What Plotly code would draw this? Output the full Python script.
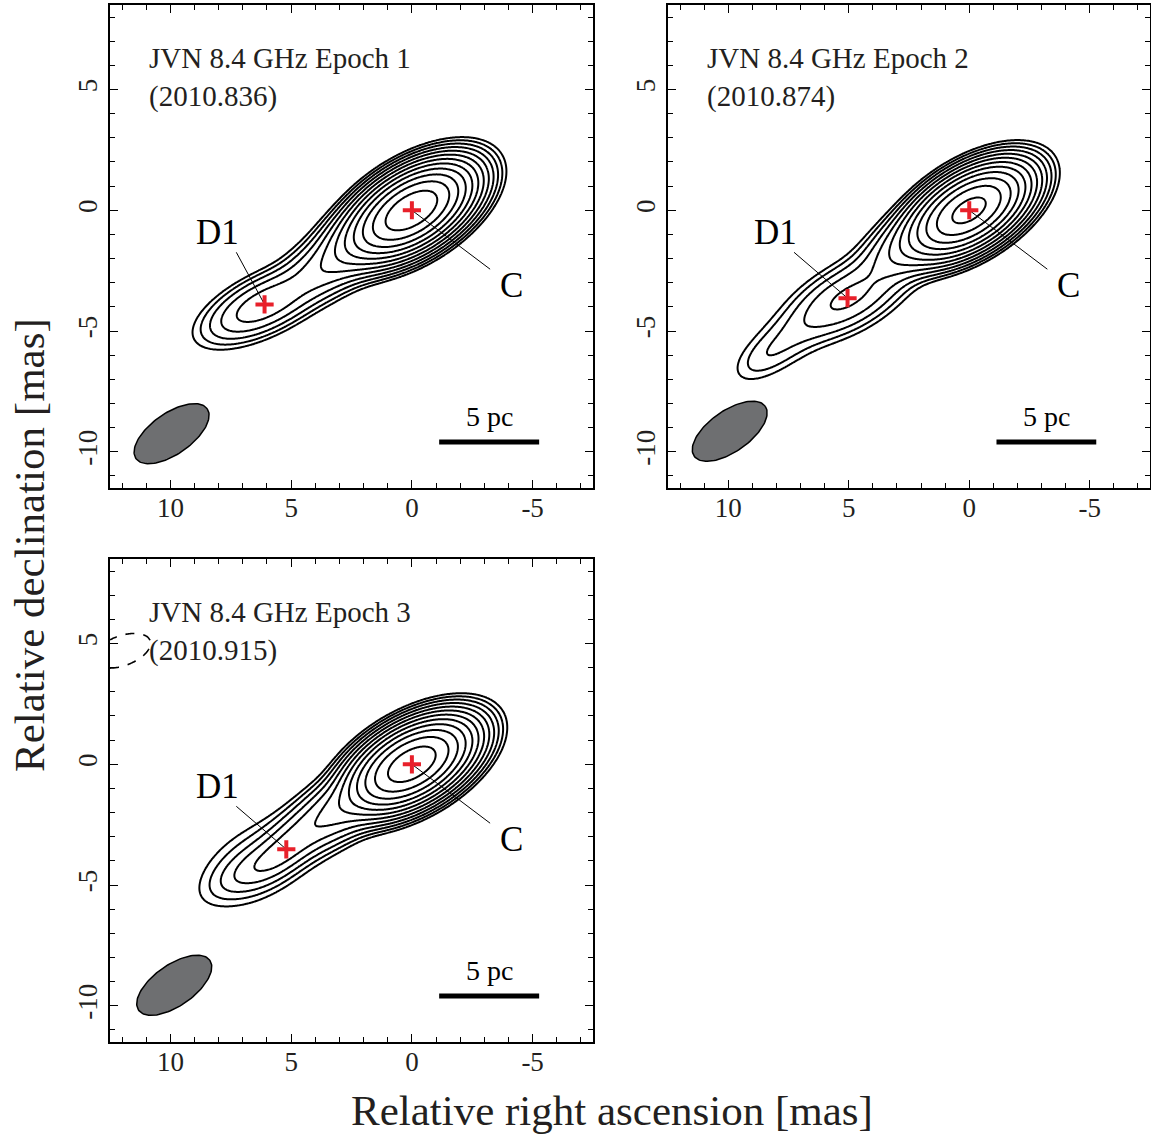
import numpy as np
import plotly.graph_objects as go

# ---------------- data (model components) ----------------
EPOCH_NAMES = ["JVN 8.4 GHz Epoch 1", "JVN 8.4 GHz Epoch 2", "JVN 8.4 GHz Epoch 3"]
EPOCH_DATES = ["(2010.836)", "(2010.874)", "(2010.915)"]

# Gaussian components per epoch: x [mas], y [mas], peak (in units of lowest contour),
# FWHM major, FWHM minor [mas], PA [deg]
EP1_X = [0.0, 1.7, 3.6, 6.1]
EP1_Y = [0.0, -1.0, -2.4, -3.9]
EP1_PEAK = [3700.0, 120.0, 20.0, 26.0]
EP1_MAJ = [2.55, 2.6, 2.6, 3.0]
EP1_MIN = [1.33, 1.3, 1.3, 1.25]
EP1_PA = [-58.0, -58.0, -60.0, -64.0]

EP2_X = [0.0, 1.8, 3.1, 5.05, 7.5, 8.5]
EP2_Y = [0.0, -1.0, -2.0, -3.64, -5.3, -6.1]
EP2_PEAK = [2660.0, 60.0, 10.0, 18.0, 3.5, 1.5]
EP2_MAJ = [2.5, 2.6, 2.5, 3.1, 3.0, 2.0]
EP2_MIN = [1.3, 1.3, 1.3, 1.45, 1.3, 1.0]
EP2_PA = [-58.0, -58.0, -60.0, -62.0, -55.0, -55.0]

EP3_X = [0.0, 2.6, 4.0, 5.2, 6.4, 6.3, 12.0]
EP3_Y = [0.0, -1.6, -2.6, -3.5, -4.2, -4.0, 4.7]
EP3_PEAK = [3400.0, 40.0, 14.0, 14.0, 8.0, 4.0, -1.6]
EP3_MAJ = [2.55, 2.6, 2.6, 2.4, 2.4, 3.6, 3.0]
EP3_MIN = [1.33, 1.3, 1.3, 1.0, 1.0, 1.9, 1.5]
EP3_PA = [-60.0, -60.0, -60.0, -50.0, -60.0, -60.0, -70.0]

N_LEVELS = 12           # contours: lowest * 2**k, k = 0..11

# component positions marked with red crosses
CORE_POS = [(0.0, 0.0), (0.0, 0.0), (0.0, 0.0)]
D1_POS = [(6.1, -3.9), (5.05, -3.64), (5.2, -3.52)]

# beam: centre, FWHM major, minor, PA
BEAM_CENTER = [(9.95, -9.25), (9.94, -9.15), (9.84, -9.15)]
BEAM_MAJ = 3.6
BEAM_MIN = 1.7
BEAM_PA = -55.0

SCALE_BAR_X = (-1.13, -5.27)
SCALE_BAR_Y = -9.6
SCALE_LABEL = "5 pc"

X_TICKS = [10, 5, 0, -5]
Y_TICKS = [5, 0, -5, -10]

COMPONENTS = [
    (EP1_X, EP1_Y, EP1_PEAK, EP1_MAJ, EP1_MIN, EP1_PA),
    (EP2_X, EP2_Y, EP2_PEAK, EP2_MAJ, EP2_MIN, EP2_PA),
    (EP3_X, EP3_Y, EP3_PEAK, EP3_MAJ, EP3_MIN, EP3_PA),
]

# ---------------- helpers ----------------
FONT = "Liberation Serif, Times New Roman, serif"


def gauss2d(X, Y, x0, y0, peak, fmaj, fmin, pa_deg):
    pa = np.radians(pa_deg)
    dx, dy = X - x0, Y - y0
    u = dx * np.sin(pa) + dy * np.cos(pa)
    v = dx * np.cos(pa) - dy * np.sin(pa)
    sa, sb = fmaj / 2.3548, fmin / 2.3548
    return peak * np.exp(-0.5 * (u ** 2 / sa ** 2 + v ** 2 / sb ** 2))


def ellipse(cx, cy, fmaj, fmin, pa_deg, n=120):
    t = np.linspace(0, 2 * np.pi, n)
    pa = np.radians(pa_deg)
    a, b = fmaj / 2, fmin / 2
    x = cx + a * np.cos(t) * np.sin(pa) + b * np.sin(t) * np.cos(pa)
    y = cy + a * np.cos(t) * np.cos(pa) - b * np.sin(t) * np.sin(pa)
    return x, y


gx = np.linspace(-7.5, 12.5, 401)
gy = np.linspace(-11.5, 8.5, 401)
GX, GY = np.meshgrid(gx, gy)

W, H = 1151, 1138
# panel frames in pixels (left, top, right, bottom)
PANELS = [(110, 5, 593, 488), (668, 5, 1150, 488), (110, 559, 593, 1042)]

fig = go.Figure()

for i, (comp, panel) in enumerate(zip(COMPONENTS, PANELS)):
    xs, ys, pk, mj, mn, pa = comp
    I = np.zeros_like(GX)
    for k in range(len(xs)):
        I += gauss2d(GX, GY, xs[k], ys[k], pk[k], mj[k], mn[k], pa[k])
    xa = "x" if i == 0 else f"x{i+1}"
    ya = "y" if i == 0 else f"y{i+1}"

    zpos = np.where(I > 0, np.log2(np.clip(I, 1e-9, None)), -20)
    fig.add_trace(go.Contour(
        x=gx, y=gy, z=zpos, xaxis=xa, yaxis=ya,
        contours=dict(start=0, end=N_LEVELS - 1, size=1, coloring="none"),
        line=dict(color="black", width=2), showscale=False,
        hoverinfo="skip", showlegend=False))
    if np.min(I) < -1:
        zneg = np.where(I < 0, np.log2(np.clip(-I, 1e-9, None)), -20)
        fig.add_trace(go.Contour(
            x=gx, y=gy, z=zneg, xaxis=xa, yaxis=ya,
            contours=dict(start=0, end=0, size=1, coloring="none"),
            line=dict(color="black", width=1.6, dash="dash"), showscale=False,
            hoverinfo="skip", showlegend=False))

    # beam
    bx, by = ellipse(BEAM_CENTER[i][0], BEAM_CENTER[i][1], BEAM_MAJ, BEAM_MIN, BEAM_PA)
    fig.add_trace(go.Scatter(x=bx, y=by, xaxis=xa, yaxis=ya, mode="lines",
                             fill="toself", fillcolor="#6e6f71",
                             line=dict(color="black", width=1.5),
                             hoverinfo="skip", showlegend=False))
    # scale bar
    fig.add_trace(go.Scatter(x=list(SCALE_BAR_X), y=[SCALE_BAR_Y] * 2, xaxis=xa, yaxis=ya,
                             mode="lines", line=dict(color="black", width=5),
                             hoverinfo="skip", showlegend=False))
    fig.add_annotation(x=np.mean(SCALE_BAR_X), y=SCALE_BAR_Y + 1.05, xref=xa, yref=ya,
                       text=SCALE_LABEL, showarrow=False,
                       font=dict(family=FONT, size=28, color="black"))
    # leader lines
    d1x, d1y = D1_POS[i]
    cx0, cy0 = CORE_POS[i]
    fig.add_trace(go.Scatter(x=[7.27, d1x], y=[-1.74, d1y], xaxis=xa, yaxis=ya,
                             mode="lines", line=dict(color="black", width=1),
                             hoverinfo="skip", showlegend=False))
    fig.add_trace(go.Scatter(x=[cx0, -3.24], y=[cy0, -2.44], xaxis=xa, yaxis=ya,
                             mode="lines", line=dict(color="black", width=1),
                             hoverinfo="skip", showlegend=False))
    # crosses
    fig.add_trace(go.Scatter(x=[cx0, d1x], y=[cy0, d1y], xaxis=xa, yaxis=ya,
                             mode="markers",
                             marker=dict(symbol="cross-thin", size=13,
                                         line=dict(color="#e8202a", width=4)),
                             hoverinfo="skip", showlegend=False))
    # labels
    fig.add_annotation(x=8.05, y=-0.93, xref=xa, yref=ya, text="D1", showarrow=False,
                       font=dict(family=FONT, size=35, color="black"))
    fig.add_annotation(x=-4.12, y=-3.12, xref=xa, yref=ya, text="C", showarrow=False,
                       font=dict(family=FONT, size=35, color="black"))
    fig.add_annotation(x=10.95, y=6.29, xref=xa, yref=ya, text=EPOCH_NAMES[i],
                       showarrow=False, xanchor="left",
                       font=dict(family=FONT, size=29, color="#231f20"))
    fig.add_annotation(x=10.95, y=4.72, xref=xa, yref=ya, text=EPOCH_DATES[i],
                       showarrow=False, xanchor="left",
                       font=dict(family=FONT, size=29, color="#231f20"))

    l, t, r, b = panel
    axcommon = dict(showline=True, linewidth=1.6, linecolor="black", mirror="allticks",
                    ticks="inside", ticklen=8, tickwidth=1.4, tickcolor="black",
                    showgrid=False, zeroline=False,
                    tickfont=dict(family=FONT, size=27, color="#231f20"))
    xaxis = dict(axcommon, domain=[l / W, r / W], range=[12.5, -7.5],
                 tickmode="array", tickvals=X_TICKS, ticktext=[str(v) for v in X_TICKS],
                 ticklabelstandoff=-5,
                 minor=dict(tickvals=list(range(-7, 13)), ticks="inside", ticklen=5,
                            tickwidth=1.2, tickcolor="black"),
                 anchor=ya)
    yaxis = dict(axcommon, domain=[1 - b / H, 1 - t / H], range=[-11.5, 8.5],
                 tickmode="array", tickvals=Y_TICKS, ticktext=[str(v) for v in Y_TICKS],
                 tickangle=-90,
                 minor=dict(tickvals=list(range(-11, 9)), ticks="inside", ticklen=5,
                            tickwidth=1.2, tickcolor="black"),
                 anchor=xa)
    key = "" if i == 0 else str(i + 1)
    fig.update_layout(**{f"xaxis{key}": xaxis, f"yaxis{key}": yaxis})

fig.add_annotation(x=612 / W, y=1 - 1110 / H, xref="paper", yref="paper",
                   xanchor="center", yanchor="middle",
                   text="Relative right ascension [mas]", showarrow=False,
                   font=dict(family=FONT, size=43, color="#231f20"))
fig.add_annotation(x=30 / W, y=1 - 545 / H, xref="paper", yref="paper",
                   xanchor="center", yanchor="middle",
                   text="Relative declination [mas]", showarrow=False, textangle=-90,
                   font=dict(family=FONT, size=43, color="#231f20"))

fig.update_layout(width=W, height=H, autosize=False,
                  margin=dict(l=0, r=0, t=0, b=0),
                  paper_bgcolor="white", plot_bgcolor="white")
fig.write_html("out.html", config={"displayModeBar": False},
               post_script="document.body.style.margin='0';document.body.style.padding='0';")
